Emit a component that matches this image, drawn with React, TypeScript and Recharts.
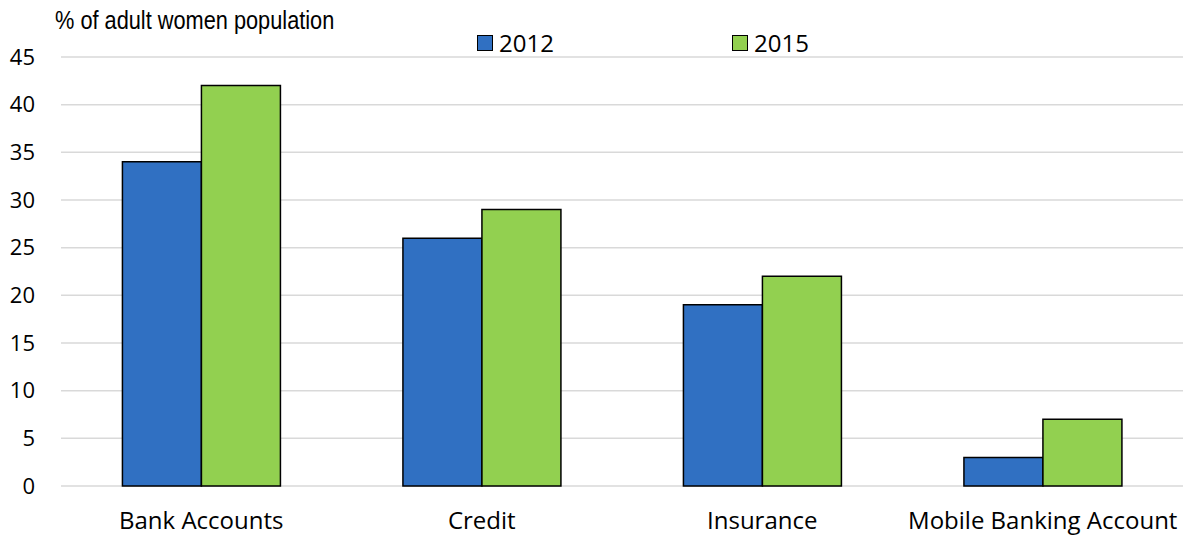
import React from "react";
import {
  BarChart,
  Bar,
  XAxis,
  YAxis,
  CartesianGrid,
} from "recharts";

const categories = ["Bank Accounts", "Credit", "Insurance", "Mobile Banking Account"];
const values2012 = [34, 26, 19, 3];
const values2015 = [42, 29, 22, 7];
const yTicks = [0, 5, 10, 15, 20, 25, 30, 35, 40, 45];

const data = categories.map((name, i) => ({
  name,
  "2012": values2012[i],
  "2015": values2015[i],
}));

const BLUE = "#3070C2";
const GREEN = "#92D050";

const legendItems = [
  { label: "2012", color: BLUE, left: 477 },
  { label: "2015", color: GREEN, left: 732 },
];

const App = () => {
  return (
    <div style={{ position: "absolute", left: 0, top: 0, width: 1185, height: 535, background: "#fff", overflow: "hidden" }}>
      <div
        style={{
          position: "absolute",
          left: 55,
          top: 6,
          fontFamily: "'Liberation Sans', Arial, sans-serif",
          fontSize: 25,
          color: "#000",
          whiteSpace: "nowrap",
          transform: "scaleX(0.87)",
          transformOrigin: "left top",
        }}
      >
        % of adult women population
      </div>
      {/* legend sits above the plot, not taking space from it */}
      {legendItems.map((item) => (
        <div
          key={item.label}
          style={{
            position: "absolute",
            left: item.left,
            top: 27,
            display: "flex",
            alignItems: "center",
            fontFamily: "'Open Sans', sans-serif",
            fontSize: 24,
            lineHeight: "32px",
            color: "#000",
          }}
        >
          <span
            style={{
              display: "inline-block",
              width: 14,
              height: 14,
              background: item.color,
              border: "1.5px solid #000",
              marginRight: 6,
            }}
          />
          <span>{item.label}</span>
        </div>
      ))}
      <BarChart
        width={1185}
        height={535}
        data={data}
        margin={{ top: 57, right: 2, bottom: 0, left: 0 }}
        barCategoryGap="21.9%"
        barGap={0}
      >
        <CartesianGrid vertical={false} stroke="#d9d9d9" strokeWidth={1.5} />
        <XAxis
          dataKey="name"
          axisLine={false}
          tickLine={false}
          tickSize={0}
          tickMargin={26}
          height={49}
          interval={0}
          tick={{ fill: "#000", fontSize: 24, fontFamily: "'Open Sans', sans-serif" }}
        />
        <YAxis
          domain={[0, 45]}
          ticks={yTicks}
          axisLine={false}
          tickLine={false}
          tickSize={0}
          tickMargin={26}
          width={61}
          interval={0}
          tick={{ fill: "#000", fontSize: 22, fontFamily: "'Open Sans', sans-serif" }}
        />
        <Bar dataKey="2012" fill={BLUE} stroke="#000" strokeWidth={1.5} isAnimationActive={false} />
        <Bar dataKey="2015" fill={GREEN} stroke="#000" strokeWidth={1.5} isAnimationActive={false} />
      </BarChart>
    </div>
  );
};

export default App;
